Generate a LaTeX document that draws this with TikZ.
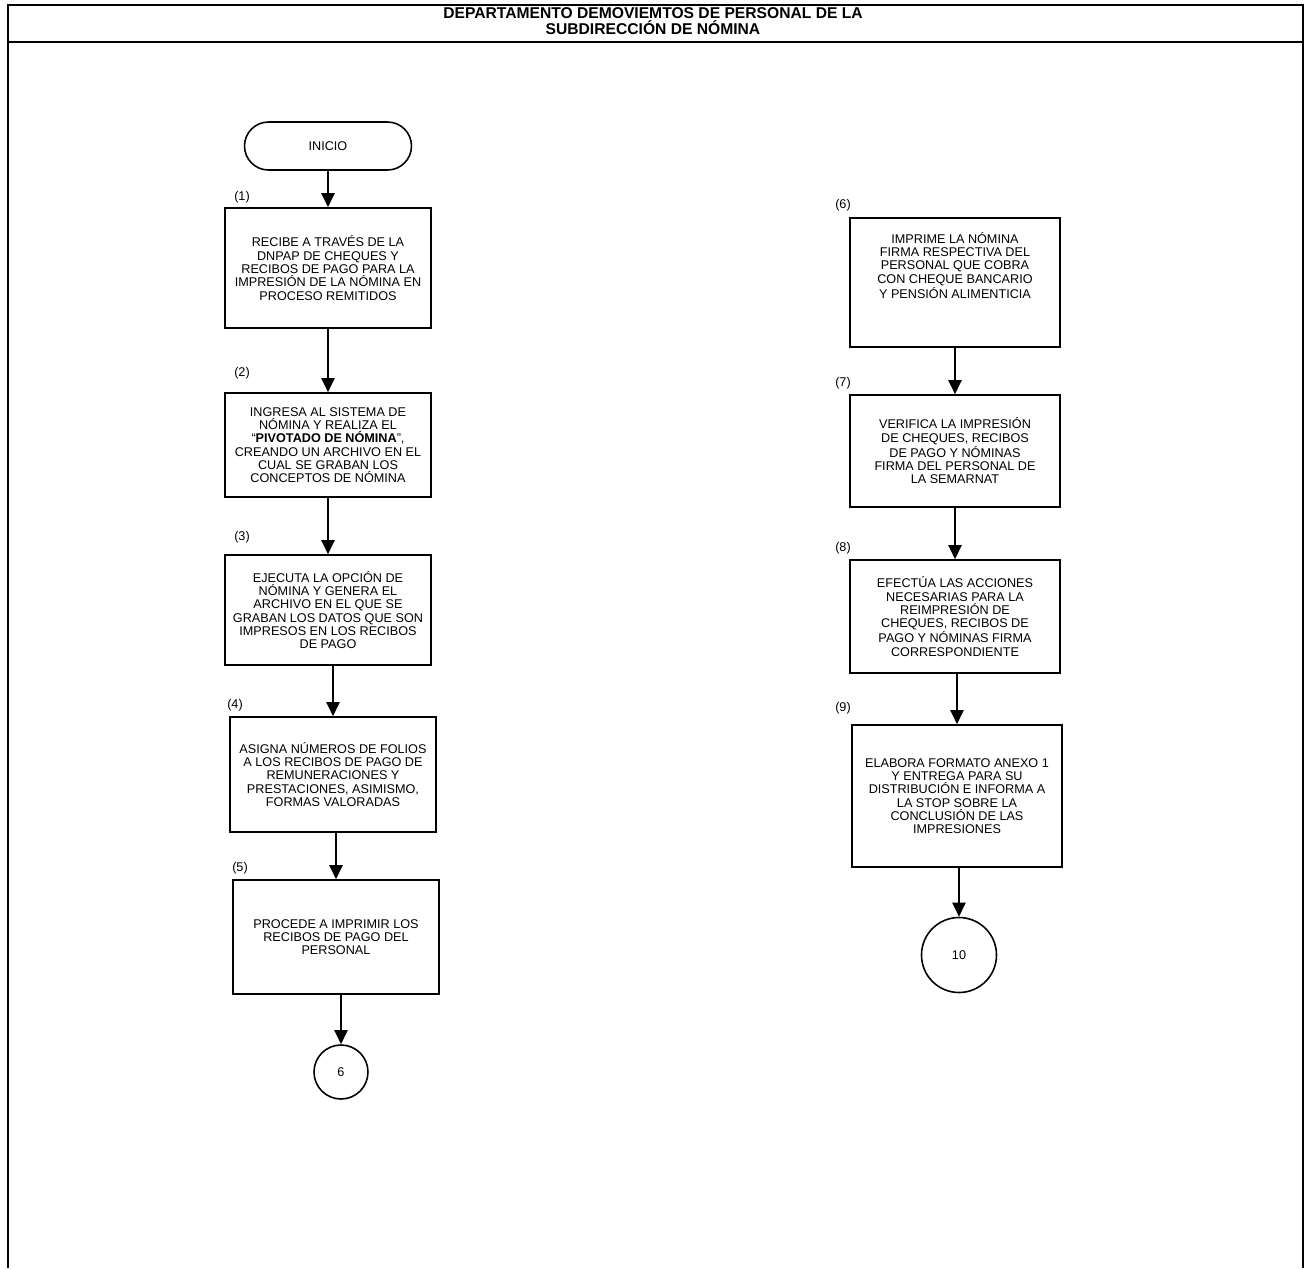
\documentclass[tikz,border=0pt]{standalone}
\usepackage{fontspec}
\setmainfont{Liberation Sans}
\usetikzlibrary{arrows.meta}

\begin{document}
\begin{tikzpicture}[every node/.style={font=\fontsize{7.2}{7.57}\selectfont, align=center},
    caja/.style={draw, line width=0.9pt, minimum width=4.12cm},
    conector/.style={circle, draw, line width=0.9pt, inner sep=0pt},
    flecha/.style={line width=1.2pt, -{Triangle[width=0.26cm,length=0.28cm]}}]
    \useasboundingbox (0,0) rectangle (26.14,-25.36);
    \draw[line width=0.85pt] (0.16,-25.36) -- (0.16,-0.10) -- (26.06,-0.10) -- (26.06,-25.36);
    \draw[line width=0.85pt] (0.16,-0.84) -- (26.06,-0.84);
    \node[font=\fontsize{8.9}{9.1}\selectfont\bfseries] (titulo) at (13.06,-0.43) {DEPARTAMENTO DEMOVIEMTOS DE PERSONAL DE LA\\SUBDIRECCIÓN DE NÓMINA};

    \node[draw, line width=0.9pt, rounded corners=0.48cm, minimum width=3.34cm, minimum height=0.96cm] (ini) at (6.56,-2.92) {INICIO};
    \node[caja, minimum height=2.4cm] (p1) at (6.56,-5.36) {RECIBE A TRAVÉS DE LA\\DNPAP DE CHEQUES Y\\RECIBOS DE PAGO PARA LA\\IMPRESIÓN DE LA NÓMINA EN\\PROCESO REMITIDOS};
    \node[caja, minimum height=2.08cm] (p2) at (6.56,-8.90) {INGRESA AL SISTEMA DE\\NÓMINA Y REALIZA EL\\“\textbf{PIVOTADO DE NÓMINA}”,\\CREANDO UN ARCHIVO EN EL\\CUAL SE GRABAN LOS\\CONCEPTOS DE NÓMINA};
    \node[caja, minimum height=2.2cm] (p3) at (6.56,-12.20) {EJECUTA LA OPCIÓN DE\\NÓMINA Y GENERA EL\\ARCHIVO EN EL QUE SE\\GRABAN LOS DATOS QUE SON\\IMPRESOS EN LOS RECIBOS\\DE PAGO};
    \node[caja, minimum height=2.3cm] (p4) at (6.66,-15.49) {ASIGNA NÚMEROS DE FOLIOS\\A LOS RECIBOS DE PAGO DE\\REMUNERACIONES Y\\PRESTACIONES, ASIMISMO,\\FORMAS VALORADAS};
    \node[caja, minimum height=2.28cm] (p5) at (6.72,-18.74) {PROCEDE A IMPRIMIR LOS\\RECIBOS DE PAGO DEL\\PERSONAL};
    \node[conector, minimum size=1.08cm] (c6) at (6.82,-21.44) {6};

    \node (e1) at (4.84,-3.94) {(1)};
    \node (e2) at (4.84,-7.46) {(2)};
    \node (e3) at (4.84,-10.74) {(3)};
    \node (e4) at (4.70,-14.10) {(4)};
    \node (e5) at (4.80,-17.36) {(5)};

    \node[caja, minimum width=4.2cm, minimum height=2.58cm] (p6) at (19.10,-5.65) {IMPRIME LA NÓMINA\\FIRMA RESPECTIVA DEL\\PERSONAL QUE COBRA\\CON CHEQUE BANCARIO\\Y PENSIÓN ALIMENTICIA\\[12pt]\mbox{}};
    \node[caja, minimum width=4.2cm, minimum height=2.24cm] (p7) at (19.10,-9.02) {VERIFICA LA IMPRESIÓN\\DE CHEQUES, RECIBOS\\DE PAGO Y NÓMINAS\\FIRMA DEL PERSONAL DE\\LA SEMARNAT};
    \node[caja, minimum width=4.2cm, minimum height=2.26cm] (p8) at (19.10,-12.33) {EFECTÚA LAS ACCIONES\\NECESARIAS PARA LA\\REIMPRESIÓN DE\\CHEQUES, RECIBOS DE\\PAGO Y NÓMINAS FIRMA\\CORRESPONDIENTE};
    \node[caja, minimum width=4.2cm, minimum height=2.84cm] (p9) at (19.14,-15.92) {ELABORA FORMATO ANEXO 1\\Y ENTREGA PARA SU\\DISTRIBUCIÓN E INFORMA A\\LA STOP SOBRE LA\\CONCLUSIÓN DE LAS\\IMPRESIONES};
    \node[conector, minimum size=1.5cm] (c10) at (19.18,-19.10) {10};

    \node (e6) at (16.86,-4.10) {(6)};
    \node (e7) at (16.86,-7.66) {(7)};
    \node (e8) at (16.86,-10.96) {(8)};
    \node (e9) at (16.86,-14.16) {(9)};

    \draw[flecha] (ini) -- (p1);
    \draw[flecha] (p1) -- (p2);
    \draw[flecha] (p2) -- (p3);
    \draw[flecha] (p3.south -| p4.north) -- (p4.north);
    \draw[flecha] (p4.south -| p5.north) -- (p5.north);
    \draw[flecha] (p5.south -| c6.north) -- (c6.north);
    \draw[flecha] (p6) -- (p7);
    \draw[flecha] (p7) -- (p8);
    \draw[flecha] (p8.south -| p9.north) -- (p9.north);
    \draw[flecha] (p9.south -| c10.north) -- (c10.north);
\end{tikzpicture}
\end{document}
